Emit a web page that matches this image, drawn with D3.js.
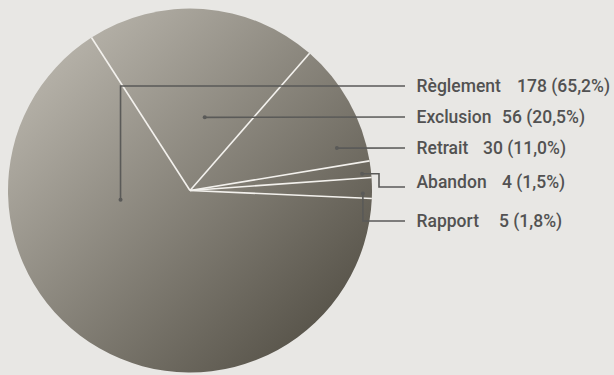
<!DOCTYPE html>
<html>
<head>
<meta charset="utf-8">
<script src="https://cdn.jsdelivr.net/npm/d3@7"></script>
<style>
  html, body { margin: 0; padding: 0; background: #e8e7e4; }
  svg { display: block; }
  text { font-family: Roboto, "Noto Sans", sans-serif; font-weight: 500; fill: #525252; }
</style>
</head>
<body>
<svg id="chart" width="614" height="375"></svg>
<script>
// Data
const categories = ["Règlement", "Exclusion", "Retrait", "Abandon", "Rapport"];
const counts = [178, 56, 30, 4, 5];
const percentLabels = ["65,2%", "20,5%", "11,0%", "1,5%", "1,8%"];

// Label layout: anchor inside slice (fraction of slice angle, fraction of radius),
// text centre y, leader line y, and x of the value text
const anchorT = [0.724, 0.598, 0.83, 0.72, 0.77];
const anchorR = [0.385, 0.41, 0.84, 0.95, 0.95];
const textY = [86, 117, 148, 182, 221];
const lineY = [86, 117, 148, 187, 221];
const valueX = [517, 502, 483, 502, 499];

const W = 614, H = 375;
const cx = 190, cy = 190.5, R = 182;
const startDeg = 92.5;

const svg = d3.select("#chart");

// Diagonal gradient shared by all slices (coordinates relative to the pie centre)
const defs = svg.append("defs");
const grad = defs.append("linearGradient")
  .attr("id", "pieGrad")
  .attr("gradientUnits", "userSpaceOnUse")
  .attr("x1", -R).attr("y1", -R)
  .attr("x2", R).attr("y2", R);
grad.append("stop").attr("offset", 0).attr("stop-color", "#c6c2b9");
grad.append("stop").attr("offset", 1).attr("stop-color", "#48443a");

const a0 = startDeg * Math.PI / 180;
const pie = d3.pie().sort(null).value(d => d)
  .startAngle(a0).endAngle(a0 + 2 * Math.PI);
const arcs = pie(counts);
const arc = d3.arc().innerRadius(0).outerRadius(R);

const g = svg.append("g").attr("transform", `translate(${cx},${cy})`);

g.selectAll("path.slice")
  .data(arcs)
  .join("path")
  .attr("class", "slice")
  .attr("d", arc)
  .attr("fill", "url(#pieGrad)")
  .attr("stroke", "none");

// White separators between slices
g.selectAll("line.sep")
  .data(arcs)
  .join("line")
  .attr("class", "sep")
  .attr("x1", 0).attr("y1", 0)
  .attr("x2", d => R * Math.sin(d.startAngle))
  .attr("y2", d => -R * Math.cos(d.startAngle))
  .attr("stroke", "#f3f1ed")
  .attr("stroke-width", 1.6);

// Leader lines and labels
const lineEndX = 405;
const textX = 416.5;
const lines = svg.append("g");

arcs.forEach((d, i) => {
  const ang = d.startAngle + (d.endAngle - d.startAngle) * anchorT[i];
  const ax = cx + R * anchorR[i] * Math.sin(ang);
  const ay = cy - R * anchorR[i] * Math.cos(ang);
  const ly = lineY[i];
  let pts;
  if (Math.abs(ay - ly) < 1) {
    pts = [[ax, ay], [lineEndX, ly]];
  } else if (i === 3) {
    pts = [[ax, ay], [379, ay], [379, ly], [lineEndX, ly]];
  } else {
    pts = [[ax, ay], [ax, ly], [lineEndX, ly]];
  }
  lines.append("path")
    .attr("d", d3.line()(pts))
    .attr("fill", "none")
    .attr("stroke", "#5a5a58")
    .attr("stroke-width", 1.6);
  lines.append("circle")
    .attr("cx", ax).attr("cy", ay).attr("r", 2)
    .attr("fill", "#5a5a58");

  svg.append("text")
    .attr("x", textX)
    .attr("y", textY[i])
    .attr("dy", "0.36em")
    .attr("font-size", 17.5)
    .text(categories[i]);
  svg.append("text")
    .attr("x", valueX[i])
    .attr("y", textY[i])
    .attr("dy", "0.36em")
    .attr("font-size", 17.5)
    .text(`${counts[i]} (${percentLabels[i]})`);
});
</script>
</body>
</html>
